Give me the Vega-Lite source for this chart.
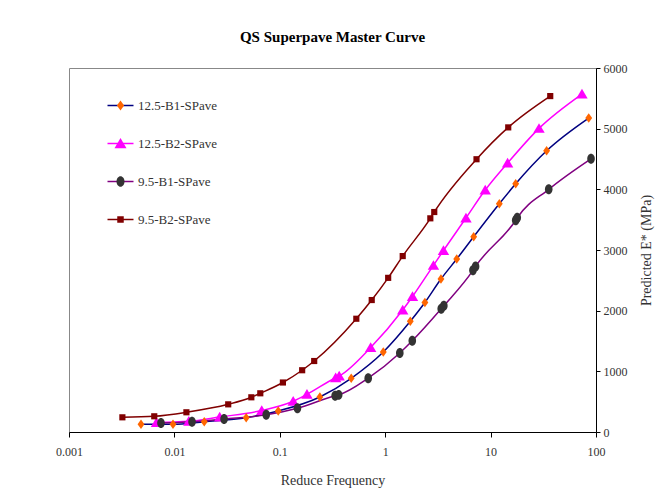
{
  "$schema": "https://vega.github.io/schema/vega-lite/v6.json",
  "width": 527,
  "height": 364,
  "autosize": {"type": "none"},
  "padding": {"left": 69, "top": 68, "right": 66, "bottom": 69},
  "background": "white",
  "title": {"text": "QS Superpave Master Curve", "font": "Liberation Serif", "fontSize": 15, "fontWeight": "bold", "color": "black", "offset": 17, "anchor": "middle"},
  "config": {"view": {"stroke": "#888888", "strokeWidth": 1}, "axis": {"grid": false}},
  "data": {"values": [
    {"series": "12.5-B1-SPave", "f": 0.00482, "E": 127},
    {"series": "12.5-B1-SPave", "f": 0.0097, "E": 127},
    {"series": "12.5-B1-SPave", "f": 0.0192, "E": 170},
    {"series": "12.5-B1-SPave", "f": 0.048, "E": 236},
    {"series": "12.5-B1-SPave", "f": 0.0966, "E": 346},
    {"series": "12.5-B1-SPave", "f": 0.24, "E": 577},
    {"series": "12.5-B1-SPave", "f": 0.476, "E": 885},
    {"series": "12.5-B1-SPave", "f": 0.959, "E": 1318},
    {"series": "12.5-B1-SPave", "f": 1.73, "E": 1824},
    {"series": "12.5-B1-SPave", "f": 2.38, "E": 2134},
    {"series": "12.5-B1-SPave", "f": 3.38, "E": 2521},
    {"series": "12.5-B1-SPave", "f": 4.77, "E": 2851},
    {"series": "12.5-B1-SPave", "f": 6.91, "E": 3219},
    {"series": "12.5-B1-SPave", "f": 12.1, "E": 3762},
    {"series": "12.5-B1-SPave", "f": 17.3, "E": 4092},
    {"series": "12.5-B1-SPave", "f": 34.0, "E": 4636},
    {"series": "12.5-B1-SPave", "f": 85.3, "E": 5175},
    {"series": "12.5-B2-SPave", "f": 0.00676, "E": 157},
    {"series": "12.5-B2-SPave", "f": 0.0137, "E": 176},
    {"series": "12.5-B2-SPave", "f": 0.0269, "E": 247},
    {"series": "12.5-B2-SPave", "f": 0.0674, "E": 354},
    {"series": "12.5-B2-SPave", "f": 0.134, "E": 506},
    {"series": "12.5-B2-SPave", "f": 0.181, "E": 621},
    {"series": "12.5-B2-SPave", "f": 0.339, "E": 895},
    {"series": "12.5-B2-SPave", "f": 0.366, "E": 923},
    {"series": "12.5-B2-SPave", "f": 0.728, "E": 1393},
    {"series": "12.5-B2-SPave", "f": 1.466, "E": 2011},
    {"series": "12.5-B2-SPave", "f": 1.816, "E": 2233},
    {"series": "12.5-B2-SPave", "f": 2.87, "E": 2747},
    {"series": "12.5-B2-SPave", "f": 3.57, "E": 2991},
    {"series": "12.5-B2-SPave", "f": 5.84, "E": 3527},
    {"series": "12.5-B2-SPave", "f": 8.89, "E": 3988},
    {"series": "12.5-B2-SPave", "f": 14.5, "E": 4433},
    {"series": "12.5-B2-SPave", "f": 28.8, "E": 5005},
    {"series": "12.5-B2-SPave", "f": 73.6, "E": 5570},
    {"series": "9.5-B1-SPave", "f": 0.00746, "E": 148},
    {"series": "9.5-B1-SPave", "f": 0.0147, "E": 168},
    {"series": "9.5-B1-SPave", "f": 0.0296, "E": 214},
    {"series": "9.5-B1-SPave", "f": 0.0743, "E": 283},
    {"series": "9.5-B1-SPave", "f": 0.147, "E": 391},
    {"series": "9.5-B1-SPave", "f": 0.335, "E": 598},
    {"series": "9.5-B1-SPave", "f": 0.362, "E": 612},
    {"series": "9.5-B1-SPave", "f": 0.69, "E": 887},
    {"series": "9.5-B1-SPave", "f": 1.376, "E": 1302},
    {"series": "9.5-B1-SPave", "f": 1.807, "E": 1503},
    {"series": "9.5-B1-SPave", "f": 3.4, "E": 2030},
    {"series": "9.5-B1-SPave", "f": 3.6, "E": 2080},
    {"series": "9.5-B1-SPave", "f": 6.8, "E": 2665},
    {"series": "9.5-B1-SPave", "f": 7.2, "E": 2730},
    {"series": "9.5-B1-SPave", "f": 17.3, "E": 3490},
    {"series": "9.5-B1-SPave", "f": 17.9, "E": 3530},
    {"series": "9.5-B1-SPave", "f": 35.6, "E": 4000},
    {"series": "9.5-B1-SPave", "f": 89.7, "E": 4504},
    {"series": "9.5-B2-SPave", "f": 0.00321, "E": 242},
    {"series": "9.5-B2-SPave", "f": 0.00644, "E": 259},
    {"series": "9.5-B2-SPave", "f": 0.013, "E": 325},
    {"series": "9.5-B2-SPave", "f": 0.0324, "E": 456},
    {"series": "9.5-B2-SPave", "f": 0.0537, "E": 572},
    {"series": "9.5-B2-SPave", "f": 0.0653, "E": 638},
    {"series": "9.5-B2-SPave", "f": 0.107, "E": 816},
    {"series": "9.5-B2-SPave", "f": 0.163, "E": 1018},
    {"series": "9.5-B2-SPave", "f": 0.212, "E": 1170},
    {"series": "9.5-B2-SPave", "f": 0.532, "E": 1867},
    {"series": "9.5-B2-SPave", "f": 0.745, "E": 2175},
    {"series": "9.5-B2-SPave", "f": 1.067, "E": 2541},
    {"series": "9.5-B2-SPave", "f": 1.466, "E": 2900},
    {"series": "9.5-B2-SPave", "f": 2.68, "E": 3522},
    {"series": "9.5-B2-SPave", "f": 2.92, "E": 3626},
    {"series": "9.5-B2-SPave", "f": 7.35, "E": 4496},
    {"series": "9.5-B2-SPave", "f": 14.7, "E": 5021},
    {"series": "9.5-B2-SPave", "f": 36.8, "E": 5537}
  ]},
  "encoding": {
    "x": {"field": "f", "type": "quantitative",
      "scale": {"type": "log", "domain": [0.001, 100], "nice": false},
      "axis": {"title": "Reduce Frequency", "values": [0.001, 0.01, 0.1, 1, 10, 100], "format": "~g",
        "tickSize": 5, "tickColor": "black", "domainColor": "black", "labelFlush": false,
        "labelFont": "Liberation Serif", "labelFontSize": 12, "labelColor": "#333333", "labelPadding": 9,
        "titleFont": "Liberation Serif", "titleFontSize": 14, "titleFontWeight": "normal", "titleColor": "#333333", "titlePadding": 16}},
    "y": {"field": "E", "type": "quantitative",
      "scale": {"domain": [0, 6000], "nice": false},
      "axis": {"orient": "right", "title": "Predicted E* (MPa)", "titleAngle": 270, "titleBaseline": "top", "values": [0, 1000, 2000, 3000, 4000, 5000, 6000], "format": "d",
        "tickSize": 4, "tickColor": "black", "domainColor": "black", "labelFlush": false,
        "labelFont": "Liberation Serif", "labelFontSize": 12, "labelColor": "#333333", "labelPadding": 3,
        "titleFont": "Liberation Serif", "titleFontSize": 14, "titleFontWeight": "normal", "titleColor": "#333333", "titlePadding": 12}}
  },
  "layer": [
    {
      "mark": {"type": "line", "interpolate": "monotone", "strokeWidth": 1.5},
      "encoding": {
        "stroke": {"field": "series", "type": "nominal",
          "scale": {"domain": ["12.5-B1-SPave", "12.5-B2-SPave", "9.5-B1-SPave", "9.5-B2-SPave"], "range": ["#000080", "#FF00FF", "#800080", "#800000"]},
          "legend": {"orient": "none", "legendX": 45, "legendY": 31, "title": null, "padding": 0,
            "symbolType": "M-2.6,0H2.6M0,-1.6M0,1.6", "symbolSize": 100, "symbolStrokeWidth": 1.5,
            "labelOpacity": 0, "labelFont": "Liberation Serif", "labelFontSize": 13, "labelOffset": 11, "rowPadding": 15, "zindex": 1}}
      }
    },
    {
      "mark": {"type": "point", "filled": true, "size": 90, "opacity": 1, "strokeWidth": 0},
      "encoding": {
        "fill": {"field": "series", "type": "nominal",
          "scale": {"range": ["#FF6600", "#FF00FF", "#333333", "#800000"]},
          "legend": {"orient": "none", "legendX": 45, "legendY": 31, "title": null, "padding": 0,
            "symbolSize": 100, "labelColor": "#333333", "labelFont": "Liberation Serif", "labelFontSize": 13, "labelOffset": 11, "rowPadding": 15, "zindex": 2}},
        "shape": {"field": "series", "type": "nominal",
          "scale": {"range": ["M0,-1L0.72,0L0,1L-0.72,0ZM0,-1.6M0,1.6", "M0,-1.1L1.2,0.95L-1.2,0.95ZM0,-1.6M0,1.6", "M-0.8,0A0.8,1.05 0 1,0 0.8,0A0.8,1.05 0 1,0 -0.8,0ZM0,-1.6M0,1.6", "M-0.65,-0.65H0.65V0.65H-0.65ZM0,-1.6M0,1.6"]},
          "legend": {"orient": "none", "legendX": 45, "legendY": 31, "title": null, "padding": 0,
            "symbolSize": 100, "labelColor": "#333333", "labelFont": "Liberation Serif", "labelFontSize": 13, "labelOffset": 11, "rowPadding": 15, "zindex": 2}}
      }
    }
  ]
}
